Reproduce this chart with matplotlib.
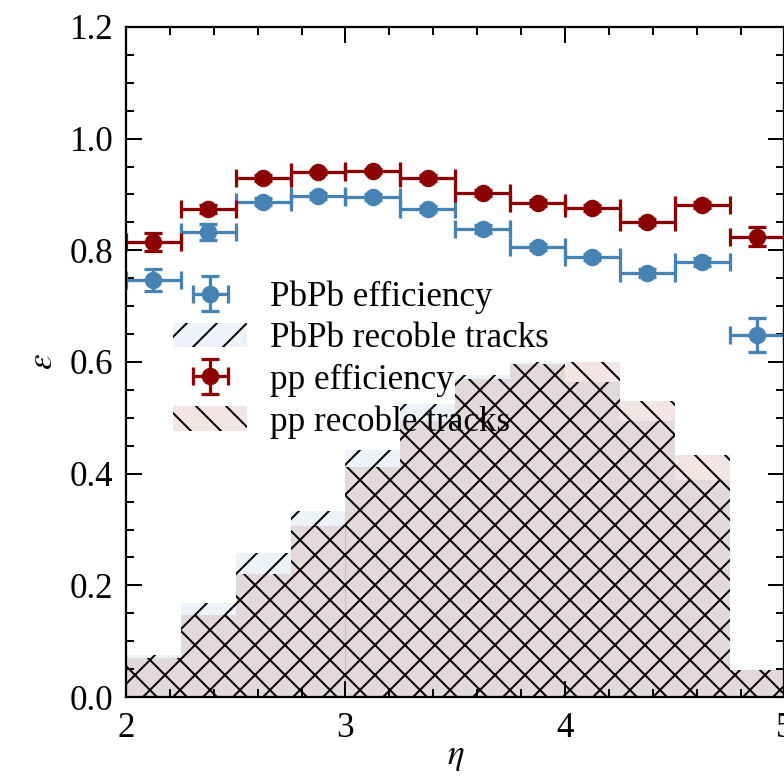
import matplotlib
matplotlib.use('Agg')
import matplotlib.pyplot as plt
from matplotlib.ticker import MultipleLocator
import numpy as np

plt.rcParams['font.family'] = ['Liberation Serif', 'DejaVu Serif']
plt.rcParams['mathtext.fontset'] = 'stix'
plt.rcParams['font.size'] = 14
plt.rcParams['hatch.linewidth'] = 0.8

# eta bins
bin_edges = [2.0, 2.25, 2.5, 2.75, 3.0, 3.25, 3.5, 3.75, 4.0, 4.25, 4.5, 4.75, 5.0]
bin_centers = [2.125, 2.375, 2.625, 2.875, 3.125, 3.375, 3.625, 3.875, 4.125, 4.375, 4.625, 4.875]
bin_halfwidth = [0.125] * 12

# efficiencies
eff_pbpb = [0.747, 0.833, 0.887, 0.897, 0.896, 0.874, 0.838, 0.806, 0.788, 0.759, 0.779, 0.648]
err_pbpb = [0.019, 0.015, 0.006, 0.005, 0.005, 0.006, 0.007, 0.006, 0.006, 0.007, 0.007, 0.030]
eff_pp = [0.815, 0.874, 0.930, 0.940, 0.942, 0.930, 0.903, 0.885, 0.876, 0.851, 0.881, 0.824]
err_pp = [0.016, 0.007, 0.005, 0.004, 0.004, 0.005, 0.005, 0.005, 0.005, 0.006, 0.006, 0.017]

# recoble tracks (normalised)
rec_pbpb = [0.075, 0.169, 0.258, 0.333, 0.443, 0.524, 0.576, 0.600, 0.565, 0.495, 0.389, 0.048]
rec_pp = [0.070, 0.147, 0.221, 0.306, 0.412, 0.495, 0.569, 0.597, 0.600, 0.531, 0.434, 0.048]

blue = '#4682b4'
red = '#8b0000'

fig = plt.figure(figsize=(785/180, 777/180), dpi=180)
ax = fig.add_axes([126/785, 80/777, 658.5/785, 670/777])

widths = np.diff(bin_edges)
ax.errorbar(bin_centers, eff_pbpb, xerr=bin_halfwidth, yerr=err_pbpb, fmt='o', color=blue,
            ms=6, elinewidth=1.3, capsize=3.5, capthick=1.3, label='PbPb efficiency')
ax.bar(bin_edges[:-1], rec_pbpb, width=widths, align='edge', color=(70/255, 130/255, 180/255, 0.1),
       edgecolor='k', linewidth=0, hatch='//', label='PbPb recoble tracks')
ax.errorbar(bin_centers, eff_pp, xerr=bin_halfwidth, yerr=err_pp, fmt='o', color=red,
            ms=6, elinewidth=1.3, capsize=3.5, capthick=1.3, label='pp efficiency')
ax.bar(bin_edges[:-1], rec_pp, width=widths, align='edge', color=(139/255, 0, 0, 0.1),
       edgecolor='k', linewidth=0, hatch='\\\\', label='pp recoble tracks')

ax.set_xlim(2, 5)
ax.set_ylim(0, 1.2)
ax.xaxis.set_major_locator(MultipleLocator(1))
ax.xaxis.set_minor_locator(MultipleLocator(0.2))
ax.yaxis.set_major_locator(MultipleLocator(0.2))
ax.yaxis.set_minor_locator(MultipleLocator(0.05))
ax.set_yticklabels([f'{v:.1f}' for v in ax.get_yticks()])
ax.tick_params(which='both', direction='in', top=True, right=True, width=0.8)
ax.tick_params(which='major', length=6.5)
ax.tick_params(which='minor', length=3.3)
ax.tick_params(axis='x', pad=6)
ax.tick_params(axis='y', pad=5)
for s in ax.spines.values():
    s.set_linewidth(0.9)

ax.set_xlabel(r'$\eta$', labelpad=-2)
ax.set_ylabel(r'$\varepsilon$', labelpad=4)

ax.legend(loc='upper left', bbox_to_anchor=(0.072, 0.622), frameon=False, borderpad=0,
          borderaxespad=0, labelspacing=0.24, handlelength=2.1, handletextpad=0.65)

fig.savefig('out.png', dpi=180)
